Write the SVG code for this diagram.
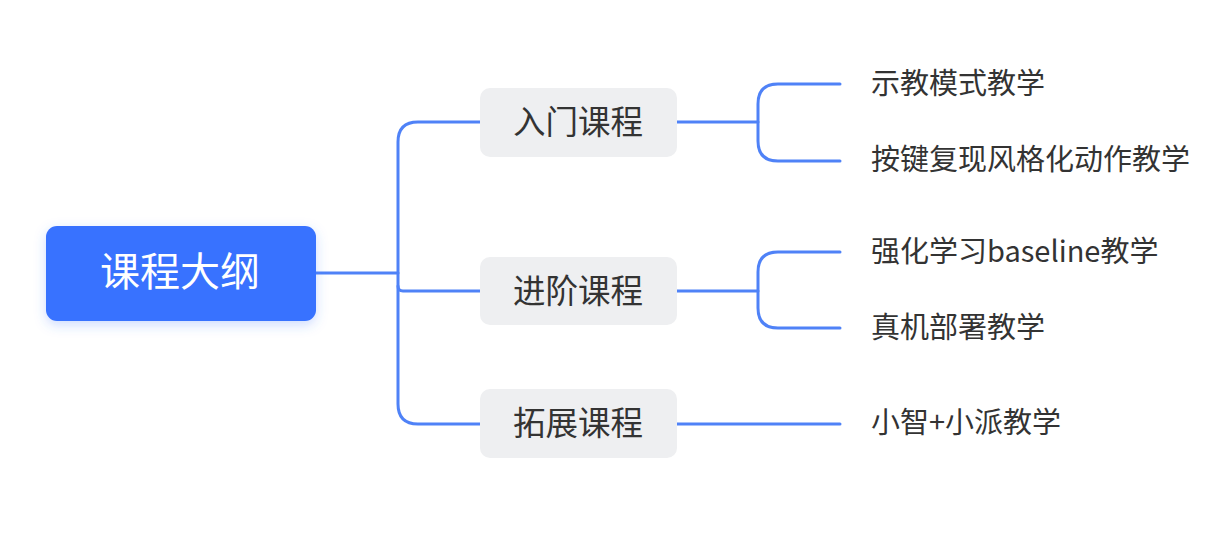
<svg xmlns="http://www.w3.org/2000/svg" width="1231" height="544" viewBox="0 0 1231 544">
<style>
.conn{fill:none;stroke:#4F82F7;stroke-width:3;stroke-linecap:round;stroke-linejoin:round}
.sub{fill:#EEEFF1}
.t{font-family:"Noto Sans CJK SC","Noto Sans",sans-serif;dominant-baseline:central}
.st{font-size:32.5px;fill:#333333;text-anchor:middle}
.lt{font-size:29px;fill:#333333}
.rt{font-size:40px;fill:#FFFFFF;text-anchor:middle}
</style>
<defs>
<filter id="sh" x="-20%" y="-40%" width="140%" height="180%">
<feDropShadow dx="0" dy="4" stdDeviation="6" flood-color="#3772FF" flood-opacity="0.25"/>
</filter>
</defs>
<rect width="1231" height="544" fill="#FFFFFF"/>
<g id="connectors">
<path class="conn" d="M316 273 H398"/>
<path class="conn" d="M480 122 H418 Q398 122 398 142 V404 Q398 424 418 424 H480"/>
<path class="conn" d="M398 286 Q398 291 403 291 H480"/>
<path class="conn" d="M677 122 H758"/>
<path class="conn" d="M840 84 H778 Q758 84 758 104 V141 Q758 161 778 161 H840"/>
<path class="conn" d="M677 291 H758"/>
<path class="conn" d="M840 252 H778 Q758 252 758 272 V308 Q758 328 778 328 H840"/>
<path class="conn" d="M677 424 H840"/>
</g>
<g id="root">
<rect x="46" y="226" width="270" height="95" rx="11" fill="#3772FF" filter="url(#sh)"/>
<text class="t rt" x="180" y="269">课程大纲</text>
</g>
<g id="n1">
<rect class="sub" x="480" y="88" width="197" height="69" rx="10"/>
<text class="t st" x="578" y="119.5">入门课程</text>
</g>
<g id="n2">
<rect class="sub" x="480" y="257" width="197" height="68" rx="10"/>
<text class="t st" x="578" y="288.5">进阶课程</text>
</g>
<g id="n3">
<rect class="sub" x="480" y="389" width="197" height="69" rx="10"/>
<text class="t st" x="578" y="420.5">拓展课程</text>
</g>
<g id="l1"><text class="t lt" x="871" y="81">示教模式教学</text></g>
<g id="l2"><text class="t lt" x="871" y="157">按键复现风格化动作教学</text></g>
<g id="l3"><text class="t lt" x="871" y="249">强化学习baseline教学</text></g>
<g id="l4"><text class="t lt" x="871" y="325">真机部署教学</text></g>
<g id="l5"><text class="t lt" x="871" y="420">小智+小派教学</text></g>
</svg>
